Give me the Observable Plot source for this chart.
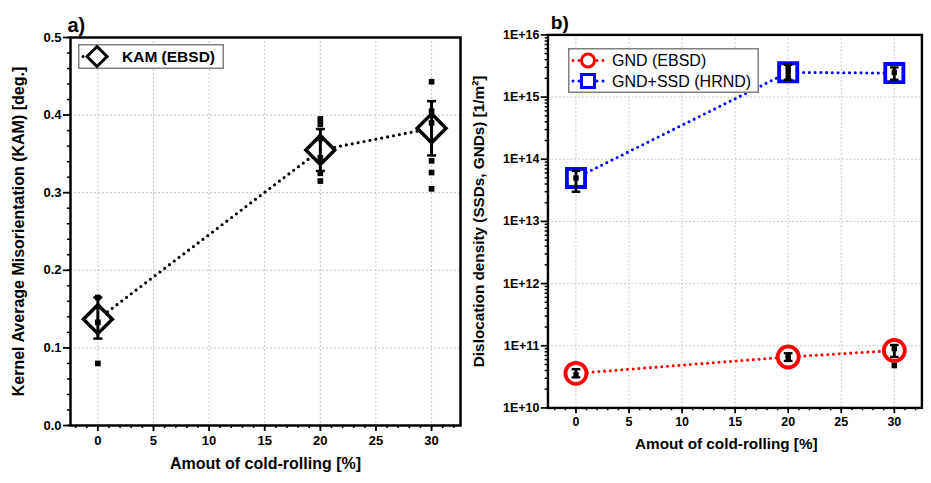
<!DOCTYPE html>
<html><head><meta charset="utf-8">
<script src="https://cdn.jsdelivr.net/npm/d3@7"></script>
<script src="https://cdn.jsdelivr.net/npm/@observablehq/plot@0.6"></script>
<style>
body{margin:0;background:#fff;}
#wrap{position:relative;width:931px;height:483px;overflow:hidden;font-family:"Liberation Sans",Arial,sans-serif;background:#fff;}
.panel{position:absolute;top:0;}
.legend{position:absolute;}
</style></head><body><div id="wrap"></div>
<script>
// ---------- data ----------
const rolling = [0, 20, 30];
const xTickValues = [0, 5, 10, 15, 20, 25, 30];

// panel a: KAM (EBSD)
const kamMean = [0.137, 0.355, 0.383];
const kamLow  = [0.112, 0.328, 0.348];
const kamHigh = [0.165, 0.382, 0.418];
const kamRaw0  = [0.080, 0.133, 0.165];
const kamRaw20 = [0.395, 0.388, 0.370, 0.345, 0.325, 0.315];
const kamRaw30 = [0.443, 0.405, 0.390, 0.341, 0.326, 0.305];
const kamTickValues = [0, 0.1, 0.2, 0.3, 0.4, 0.5];

// panel b: dislocation density
const gndMean = [3.6e10, 6.6e10, 8.4e10];
const gndLow  = [3.1e10, 5.7e10, 6.6e10];
const gndHigh = [4.2e10, 7.6e10, 1.03e11];
const gndRaw0  = [3.4e10];
const gndRaw20 = [6.2e10, 7.0e10];
const gndRaw30 = [4.8e10, 9.0e10];
const totMean = [5.0e13, 2.5e15, 2.43e15];
const totLow  = [3.0e13, 1.9e15, 1.9e15];
const totHigh = [6.5e13, 3.3e15, 3.0e15];
const totRaw0  = [5.0e13];
const totRaw20 = [3.1e15, 2.6e15, 2.1e15];
const totRaw30 = [2.5e15];
const densityExponents = [10, 11, 12, 13, 14, 15, 16];

const seriesNames = ["GND (EBSD)", "GND+SSD (HRND)"];
const kamName = "KAM (EBSD)";
const xTitle = "Amout of cold-rolling [%]";
const yTitleA = "Kernel Average Misorientation (KAM) [deg.]";
const yTitleB = "Dislocation density (SSDs, GNDs) [1/m²]";

// ---------- helpers ----------
const FONT = '"Liberation Sans", Arial, sans-serif';
const cap = {draw(ctx, size){const r = Math.sqrt(size/Math.PI); ctx.moveTo(-r,0); ctx.lineTo(r,0);}};
const toRows = (mean, lo, hi) => rolling.map((x,i)=>({x, mean:mean[i], lo:lo[i], hi:hi[i]}));
const rawRows = (...groups) => groups.flatMap((g,i)=>g.map(v=>({x:rolling[i], y:v})));
const gridStyle = {stroke:"#c4c4c4", strokeOpacity:1, strokeDasharray:"2,2", strokeWidth:1};

const kam = toRows(kamMean, kamLow, kamHigh);
const kamPts = rawRows(kamRaw0, kamRaw20, kamRaw30);
const gnd = toRows(gndMean, gndLow, gndHigh);
const gndPts = rawRows(gndRaw0, gndRaw20, gndRaw30);
const tot = toRows(totMean, totLow, totHigh);
const totPts = rawRows(totRaw0, totRaw20, totRaw30);
const decades = densityExponents.map(k=>10**k);
const minorLog = densityExponents.slice(0,-1).flatMap(k=>d3.range(2,10).map(m=>m*10**k));
const xMinor = d3.range(-2, 33);

function errorMarks(rows, color){
  return [
    Plot.ruleX(rows,{x:"x", y1:"lo", y2:"hi", stroke:color, strokeWidth:3}),
    Plot.dot(rows,{x:"x", y:"lo", symbol:cap, r:4.5, stroke:color, strokeWidth:2.5, fill:"none"}),
    Plot.dot(rows,{x:"x", y:"hi", symbol:cap, r:4.5, stroke:color, strokeWidth:2.5, fill:"none"})
  ];
}

// ---------- panel a ----------
const plotA = Plot.plot({
  width:470, height:483, marginLeft:70, marginRight:10, marginTop:37, marginBottom:58,
  style:{fontFamily:FONT, fontSize:"13px", fontWeight:"bold", background:"transparent", overflow:"visible"},
  x:{domain:[-2.46, 32.6]},
  y:{domain:[0, 0.5]},
  marks:[
    Plot.gridX(xTickValues, gridStyle),
    Plot.gridY(kamTickValues.slice(1,-1), gridStyle),
    Plot.axisX({ticks:xMinor, tickSize:3, text:null, label:null, strokeWidth:1.5}),
    Plot.axisX({ticks:xTickValues, tickSize:6, tickPadding:4, label:null, strokeWidth:1.8}),
    Plot.axisY({ticks:d3.range(0, 0.501, 0.02), tickSize:3, text:null, label:null, strokeWidth:1.5}),
    Plot.axisY({ticks:kamTickValues, tickSize:7, tickPadding:2, tickFormat:d3.format(".1f"), label:null, strokeWidth:1.8}),
    Plot.frame({stroke:"black", strokeWidth:2.5}),
    Plot.line(kam,{x:"x", y:"mean", stroke:"black", strokeWidth:3.2, strokeDasharray:"0,6", strokeLinecap:"round"}),
    Plot.dot(kam,{x:"x", y:"mean", symbol:"diamond2", r:13, fill:"white", stroke:"black", strokeWidth:3.5}),
    ...errorMarks(kam, "black"),
    Plot.dot(kamPts,{x:"x", y:"y", symbol:"square", r:3.2, fill:"black"}),
    Plot.text([xTitle],{frameAnchor:"bottom", dy:43, fontSize:16}),
    Plot.text([yTitleA],{frameAnchor:"left", textAnchor:"middle", rotate:-90, dx:-52, fontSize:16}),
    Plot.text(["a)"],{frameAnchor:"top-left", textAnchor:"start", lineAnchor:"bottom", dx:-3, dy:-6, fontSize:20})
  ]
});

// ---------- panel b ----------
const plotB = Plot.plot({
  width:482, height:483, marginLeft:81, marginRight:10, marginTop:36, marginBottom:57,
  style:{fontFamily:FONT, fontSize:"13px", fontWeight:"bold", background:"transparent", overflow:"visible"},
  x:{domain:[-2.64, 32.6]},
  y:{type:"log", domain:[1e10, 1e16]},
  marks:[
    Plot.gridX(xTickValues, gridStyle),
    Plot.gridY(decades.slice(1,-1), gridStyle),
    Plot.axisX({ticks:xMinor, tickSize:3, text:null, label:null, strokeWidth:1.5}),
    Plot.axisX({ticks:xTickValues, tickSize:6, tickPadding:4, label:null, strokeWidth:1.8}),
    Plot.axisY({ticks:minorLog, tickSize:3, text:null, label:null, strokeWidth:1.5}),
    Plot.axisY({ticks:decades, tickSize:7, tickPadding:2, tickFormat:d=>"1E+"+Math.round(Math.log10(d)), label:null, strokeWidth:1.8}),
    Plot.frame({stroke:"black", strokeWidth:2.5}),
    Plot.line(gnd,{x:"x", y:"mean", stroke:"#ff0000", strokeWidth:3.2, strokeDasharray:"0,6", strokeLinecap:"round"}),
    Plot.line(tot,{x:"x", y:"mean", stroke:"#0000ff", strokeWidth:3.2, strokeDasharray:"0,6", strokeLinecap:"round"}),
    Plot.dot(gnd,{x:"x", y:"mean", symbol:"circle", r:11, fill:"white", stroke:"#ff0000", strokeWidth:4}),
    Plot.dot(tot,{x:"x", y:"mean", symbol:"square", r:10.7, fill:"white", stroke:"#0000ff", strokeWidth:4}),
    ...errorMarks(gnd, "black"),
    ...errorMarks(tot, "black"),
    Plot.dot(gndPts,{x:"x", y:"y", symbol:"square", r:3.2, fill:"black"}),
    Plot.dot(totPts,{x:"x", y:"y", symbol:"square", r:3.2, fill:"black"}),
    Plot.text([xTitle],{frameAnchor:"bottom", dy:43, dx:-9, fontSize:16}),
    Plot.text([yTitleB],{frameAnchor:"left", textAnchor:"middle", rotate:-90, dx:-72, fontSize:16}),
    Plot.text(["b)"],{frameAnchor:"top-left", textAnchor:"start", lineAnchor:"bottom", dx:3, dy:-6, fontSize:20})
  ]
});

const wrap = document.getElementById("wrap");
const pa = document.createElement("div"); pa.className="panel"; pa.style.left="0px"; pa.appendChild(plotA); wrap.appendChild(pa);
const pb = document.createElement("div"); pb.className="panel"; pb.style.left="470px"; pb.appendChild(plotB); wrap.appendChild(pb);

// ---------- legends ----------
const legA = document.createElement("div"); legA.className="legend";
legA.style.left="78px"; legA.style.top="44px";
legA.innerHTML = `<svg width="146" height="25" style="display:block;font-family:${FONT}">
 <rect x="0.75" y="0.75" width="144.5" height="23.5" fill="white" stroke="#808080" stroke-width="1.5"/>
 <line x1="5" y1="12.5" x2="34" y2="12.5" stroke="black" stroke-width="3" stroke-dasharray="0,6" stroke-linecap="round"/>
 <path d="M19,2.5 L29,12.5 L19,22.5 L9,12.5 Z" fill="white" stroke="black" stroke-width="3"/>
 <text x="44" y="18" font-size="15.5" font-weight="bold">${kamName}</text></svg>`;
wrap.appendChild(legA);

const legB = document.createElement("div"); legB.className="legend";
legB.style.left="568px"; legB.style.top="48px";
legB.innerHTML = `<svg width="191" height="45" style="display:block;font-family:${FONT}">
 <rect x="0.75" y="0.75" width="189.5" height="43.5" fill="white" stroke="#808080" stroke-width="1.5"/>
 <line x1="5" y1="12.5" x2="38" y2="12.5" stroke="#ff0000" stroke-width="3" stroke-dasharray="0,6" stroke-linecap="round"/>
 <circle cx="20" cy="12.5" r="6.5" fill="white" stroke="#ff0000" stroke-width="3"/>
 <text x="44" y="18" font-size="16">${seriesNames[0]}</text>
 <line x1="5" y1="33" x2="38" y2="33" stroke="#0000ff" stroke-width="3" stroke-dasharray="0,6" stroke-linecap="round"/>
 <rect x="13.5" y="26.5" width="13" height="13" fill="white" stroke="#0000ff" stroke-width="3"/>
 <text x="44" y="38.5" font-size="16">${seriesNames[1]}</text></svg>`;
wrap.appendChild(legB);
</script></body></html>
